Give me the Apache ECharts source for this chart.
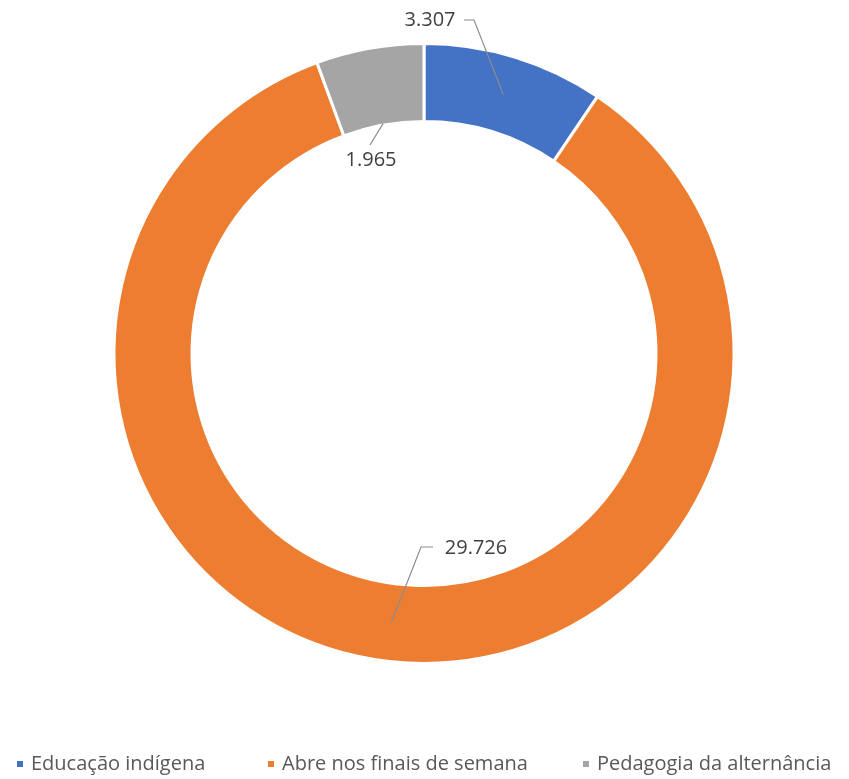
<!DOCTYPE html>
<html>
<head>
<meta charset="utf-8">
<title>Escolas por tipo</title>
<script src="https://cdn.jsdelivr.net/npm/echarts@6/dist/echarts.min.js"></script>
<style>
  html, body { margin: 0; padding: 0; background: #ffffff; }
  #chart { width: 849px; height: 779px; }
</style>
</head>
<body>
<div id="chart"></div>
<script>
// Categories and values of the donut, clockwise from 12 o'clock
const categories = ['Educação indígena', 'Abre nos finais de semana', 'Pedagogia da alternância'];
const values = [3307, 29726, 1965];
const colors = ['#4472C4', '#ED7D31', '#A5A5A5'];

// Ring geometry (pixels)
const CX = 424, CY = 353.5;
const R_IN = 233.5, R_OUT = 308.5;
const R_MID = (R_IN + R_OUT) / 2;

// Where each value label sits, and the bend of its leader line
const labelSpots = [
  { x: 430, y: 20, path: [[474, 20], [464, 20]], fromR: R_MID },
  { x: 476, y: 548, path: [[421, 547], [433, 547]], fromR: R_MID },
  { x: 371, y: 160, path: [[370, 145]], fromR: R_IN }
];

// Left edge of each legend entry
const legendLefts = [15, 266, 581];

function fmt(v) {
  return String(v).replace(/\B(?=(\d{3})+(?!\d))/g, '.');
}

const total = values.reduce((a, b) => a + b, 0);
// mid angle of each slice, measured clockwise from 12 o'clock
const midAngles = [];
{
  let acc = 0;
  values.forEach(v => {
    midAngles.push((acc + v / 2) / total * Math.PI * 2);
    acc += v;
  });
}

function anchorPoint(i) {
  const a = midAngles[i], r = labelSpots[i].fromR;
  return [CX + r * Math.sin(a), CY - r * Math.cos(a)];
}

// leader lines from each slice to its label
const leaderLines = labelSpots.map((s, i) => ({
  type: 'polyline',
  silent: true,
  z: 100,
  shape: { points: [anchorPoint(i)].concat(s.path) },
  style: { stroke: '#8c8c8c', lineWidth: 1.2, fill: null }
}));

const legends = categories.map((name, i) => ({
  left: legendLefts[i],
  top: 754,
  icon: 'rect',
  itemWidth: 8,
  itemHeight: 8,
  itemGap: 10,
  padding: 0,
  textStyle: { color: '#595959', fontSize: 20, fontFamily: 'Open Sans, sans-serif', padding: [0, 0, 0, 2] },
  selectedMode: false,
  data: [name]
}));

const chart = echarts.init(document.getElementById('chart'), null, { renderer: 'canvas' });

chart.setOption({
  animation: false,
  color: colors,
  textStyle: { fontFamily: 'Open Sans, sans-serif' },
  legend: legends,
  graphic: { elements: leaderLines },
  series: [{
    type: 'pie',
    center: [CX, CY],
    radius: [R_IN - 1.5, R_OUT + 1.5],
    startAngle: 90,
    clockwise: true,
    avoidLabelOverlap: false,
    itemStyle: { borderColor: '#ffffff', borderWidth: 3 },
    label: {
      show: true,
      position: 'outside',
      formatter: p => fmt(p.value),
      color: '#404040',
      fontSize: 20,
      fontFamily: 'Open Sans, sans-serif'
    },
    labelLine: { show: false },
    emphasis: { disabled: true },
    labelLayout: function (params) {
      const s = labelSpots[params.dataIndex];
      return { x: s.x, y: s.y, align: 'center', verticalAlign: 'middle' };
    },
    data: categories.map((name, i) => ({ name: name, value: values[i] }))
  }]
});
</script>
</body>
</html>
